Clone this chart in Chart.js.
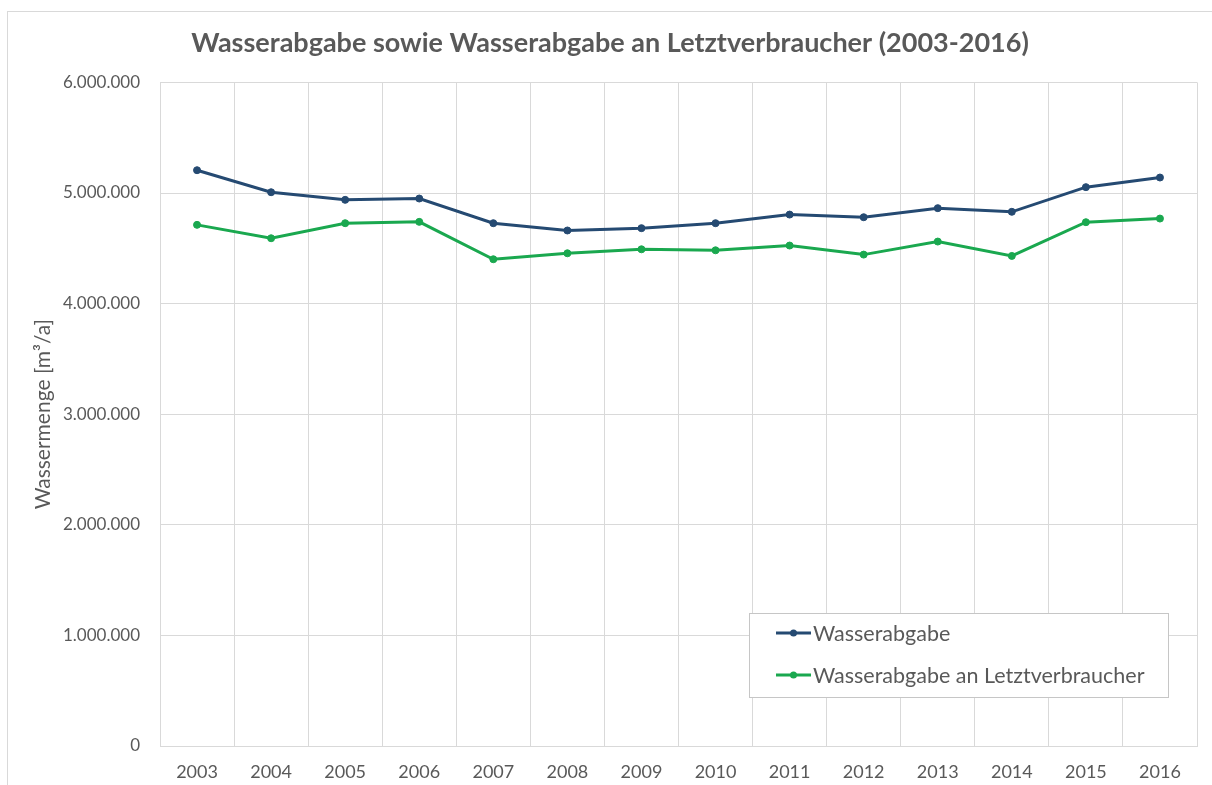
<!DOCTYPE html>
<html>
<head>
<meta charset="utf-8">
<script src="https://cdn.jsdelivr.net/npm/chart.js@4"></script>
<style>
  html, body { margin:0; padding:0; background:#fff; overflow:hidden; }
  #frame { position:absolute; left:7px; top:11px; width:1400px; height:1000px; border:1px solid #d9d9d9; box-sizing:border-box; }
  #wrap { position:absolute; left:0; top:0; width:1212px; height:785px; }
</style>
</head>
<body>
<div id="frame"></div>
<div id="wrap"><canvas id="c" width="1212" height="785"></canvas></div>
<script>
const years = ['2003','2004','2005','2006','2007','2008','2009','2010','2011','2012','2013','2014','2015','2016'];
const wasserabgabe = [5206000, 5007000, 4938000, 4950000, 4727000, 4661000, 4682000, 4727000, 4805000, 4781000, 4863000, 4830000, 5053000, 5140000];
const letztverbraucher = [4712000, 4591000, 4727000, 4739000, 4401000, 4455000, 4491000, 4482000, 4525000, 4443000, 4561000, 4431000, 4736000, 4769000];
const seriesNames = ['Wasserabgabe', 'Wasserabgabe an Letztverbraucher'];
const titleText = 'Wasserabgabe sowie Wasserabgabe an Letztverbraucher (2003-2016)';
const yTitle = 'Wassermenge [m³/a]';

const FONT = 'Lato, "Open Sans", sans-serif';
const TXT = '#595959';
const GRID = '#d9d9d9';

function fmt(v) { return String(Math.round(v)).replace(/\B(?=(\d{3})+(?!\d))/g, '.'); }

const legendBox = {
  id: 'legendBox',
  afterDraw(chart) {
    const ctx = chart.ctx, ca = chart.chartArea;
    const right = ca.right - 29, bottom = ca.bottom - 49;
    const w = 419, h = 84;
    const left = right - w, top = bottom - h;
    ctx.save();
    ctx.fillStyle = '#fff';
    ctx.fillRect(left, top, w, h);
    ctx.strokeStyle = '#c6c6c6';
    ctx.lineWidth = 1;
    ctx.strokeRect(left + 0.5, top + 0.5, w, h);
    chart.data.datasets.forEach((ds, i) => {
      const cy = top + 20 + i * 42;
      const x0 = left + 27, x1 = left + 62;
      ctx.strokeStyle = ds.borderColor;
      ctx.lineWidth = 3;
      ctx.beginPath(); ctx.moveTo(x0, cy); ctx.lineTo(x1, cy); ctx.stroke();
      ctx.fillStyle = ds.borderColor;
      ctx.beginPath(); ctx.arc((x0 + x1) / 2, cy, 3.5, 0, Math.PI * 2); ctx.fill();
      ctx.fillStyle = TXT;
      ctx.font = '21.5px ' + FONT;
      ctx.textBaseline = 'middle';
      ctx.textAlign = 'left';
      ctx.fillText(ds.label, x1 + 2, cy + 1);
    });
    ctx.restore();
  }
};

new Chart(document.getElementById('c'), {
  type: 'line',
  data: {
    labels: years,
    datasets: [
      { label: seriesNames[0], data: wasserabgabe, borderColor: '#254A72', backgroundColor: '#254A72',
        borderWidth: 3, pointRadius: 3.5, pointHoverRadius: 3.5, pointBackgroundColor: '#254A72', pointBorderWidth: 1, tension: 0 },
      { label: seriesNames[1], data: letztverbraucher, borderColor: '#1AA84F', backgroundColor: '#1AA84F',
        borderWidth: 3, pointRadius: 3.5, pointHoverRadius: 3.5, pointBackgroundColor: '#1AA84F', pointBorderWidth: 1, tension: 0 }
    ]
  },
  options: {
    responsive: false,
    animation: false,
    devicePixelRatio: 1,
    layout: { padding: { left: 8, right: 0, top: 0, bottom: 2 } },
    plugins: {
      legend: { display: false },
      tooltip: { enabled: false },
      title: {
        display: true, text: titleText, color: TXT,
        font: { family: FONT, size: 27, weight: 'bold' },
        padding: { top: 27, bottom: 23 }
      }
    },
    scales: {
      x: {
        offset: true,
        afterFit(s) { s.height = 37; },
        grid: { offset: true, color: GRID, drawTicks: false },
        border: { color: GRID },
        ticks: { color: TXT, font: { family: FONT, size: 18 }, padding: 15, maxRotation: 0 }
      },
      y: {
        min: 0, max: 6000000,
        afterFit(s) { s.width = 152; },
        grid: { color: GRID, drawTicks: false },
        border: { color: GRID },
        ticks: { stepSize: 1000000, color: TXT, font: { family: FONT, size: 17 }, padding: 20, callback: v => fmt(v) },
        title: { display: true, text: yTitle, color: TXT, font: { family: FONT, size: 21 }, padding: { top: 23, bottom: 0 } }
      },
      yRight: {
        position: 'right',
        display: true,
        afterFit(s) { s.width = 15; },
        grid: { display: false, drawTicks: false },
        border: { display: false },
        ticks: { display: false }
      }
    }
  },
  plugins: [legendBox]
});
</script>
</body>
</html>
